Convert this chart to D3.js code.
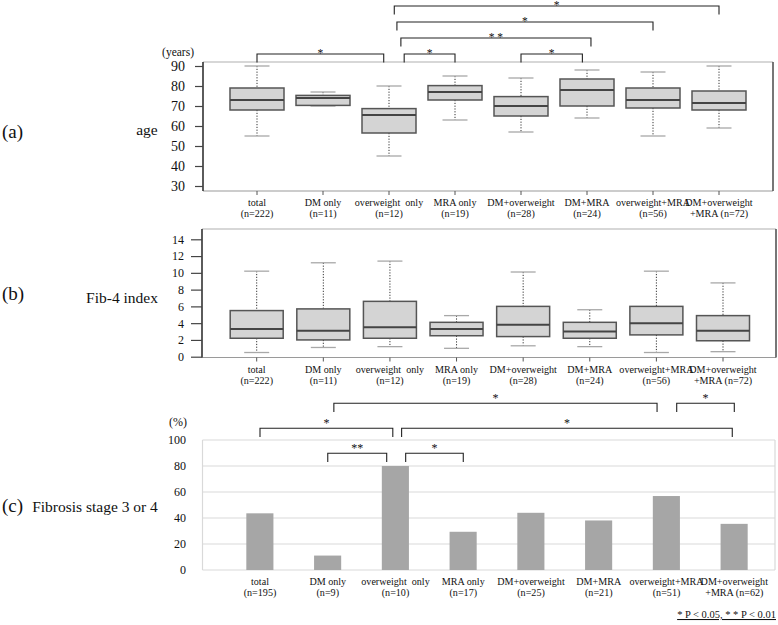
<!DOCTYPE html>
<html><head><meta charset="utf-8">
<script src="https://cdn.jsdelivr.net/npm/d3@7"></script>
</head>
<body style="margin:0;padding:0;background:#fff">
<svg id="chart" width="778" height="625" style="display:block"></svg>
<script>
// ---------- DATA ----------
const groupLabels = [["total","(n=222)"],["DM only","(n=11)"],["overweight  only","(n=12)"],["MRA only","(n=19)"],
  ["DM+overweight","(n=28)"],["DM+MRA","(n=24)"],["overweight+MRA","(n=56)"],["DM+overweight","+MRA (n=72)"]];
const groupLabelsC = [["total","(n=195)"],["DM only","(n=9)"],["overweight  only","(n=10)"],["MRA only","(n=17)"],
  ["DM+overweight","(n=25)"],["DM+MRA","(n=21)"],["overweight+MRA","(n=51)"],["DM+overweight","+MRA (n=62)"]];

// age (years): whisker low, Q1, median, Q3, whisker high
const ageMin    = [55, 70,   45,   63, 57,   64, 55, 59];
const ageQ1     = [68, 70.3, 56.5, 73, 65,   70, 69, 68];
const ageMedian = [73, 74,   65.5, 77, 70,   78, 73, 71.5];
const ageQ3     = [79, 75.3, 68.7, 80.2, 74.7, 83.5, 79, 77.5];
const ageMax    = [90, 77,   80,   85, 84,   88, 87, 90];
const ageTicks  = [30, 40, 50, 60, 70, 80, 90];

// Fib-4 index
const fibMin    = [0.5, 1.1, 1.2, 1.0, 1.3, 1.2, 0.5, 0.6];
const fibQ1     = [2.2, 2.0, 2.2, 2.5, 2.4, 2.2, 2.6, 1.9];
const fibMedian = [3.3, 3.1, 3.5, 3.3, 3.8, 3.0, 4.0, 3.1];
const fibQ3     = [5.5, 5.7, 6.6, 4.1, 6.0, 4.1, 6.0, 4.9];
const fibMax    = [10.2, 11.2, 11.4, 4.9, 10.1, 5.6, 10.2, 8.8];
const fibTicks  = [0, 2, 4, 6, 8, 10, 12, 14];

// Fibrosis stage 3 or 4 (%)
const fibrosisPct = [43.6, 11.1, 80, 29.4, 44, 38.1, 56.9, 35.5];
const pctTicks    = [0, 20, 40, 60, 80, 100];

// significance brackets: [from group, to group, label, tier]
const bracketsA = [[0, 1.92, "*", 0], [2.23, 3, "*", 0], [4, 4.93, "*", 0],
  [2.18, 5.06, "* *", 1], [2.12, 6, "*", 2], [2.08, 7, "*", 3]];
const bracketsC = [[1, 1.87, "**", 0], [2.15, 3, "*", 0], [0, 1.96, "*", 1],
  [2.09, 6.97, "*", 1], [1.09, 5.86, "*", 2], [6.15, 7, "*", 2]];

// ---------- DRAW ----------
const SERIF = '"Liberation Serif"';
const svg = d3.select("#chart");
const idx = d3.range(8);

function txt(g) { return g.append("text").style("font-family", SERIF).attr("fill", "#111"); }

function boxPanel(cfg) {
  const {x, y, left, right, top, bottom, mins, q1, med, q3, maxs, ticks, tickSize, tickPad, tickFont, boxW, labelY} = cfg;
  const g = svg.append("g");
  g.append("line").attr("x1", left).attr("x2", right).attr("y1", top).attr("y2", top).attr("stroke", "#b0b0b0").attr("stroke-width", 1.2);
  g.append("line").attr("x1", left).attr("x2", right).attr("y1", bottom).attr("y2", bottom).attr("stroke", "#9a9a9a").attr("stroke-width", 1.2);
  g.append("line").attr("x1", right).attr("x2", right).attr("y1", top).attr("y2", bottom).attr("stroke", "#555").attr("stroke-width", 1.6);
  g.append("line").attr("x1", left).attr("x2", left).attr("y1", top).attr("y2", bottom).attr("stroke", "#333").attr("stroke-width", 1.6);
  const ax = g.append("g").attr("transform", `translate(${left},0)`)
    .call(d3.axisLeft(y).tickValues(ticks).tickSize(tickSize).tickPadding(tickPad));
  ax.select(".domain").remove();
  ax.selectAll(".tick line").attr("stroke", "#444").attr("stroke-width", 1.2);
  ax.selectAll(".tick text").style("font-family", SERIF).attr("font-size", tickFont).attr("fill", "#111");
  g.selectAll(".xt").data(idx).join("line")
    .attr("x1", i => x(i)).attr("x2", i => x(i)).attr("y1", bottom).attr("y2", bottom + 4)
    .attr("stroke", "#555").attr("stroke-width", 1);
  const bx = g.selectAll(".bx").data(idx).join("g");
  bx.append("line").attr("x1", i => x(i)).attr("x2", i => x(i))
    .attr("y1", i => y(maxs[i])).attr("y2", i => y(q3[i]))
    .attr("stroke", "#333").attr("stroke-width", 1).attr("stroke-dasharray", "1.2,1.6");
  bx.append("line").attr("x1", i => x(i)).attr("x2", i => x(i))
    .attr("y1", i => y(q1[i])).attr("y2", i => y(mins[i]))
    .attr("stroke", "#333").attr("stroke-width", 1).attr("stroke-dasharray", "1.2,1.6");
  bx.append("line").attr("x1", i => x(i) - 12.5).attr("x2", i => x(i) + 12.5)
    .attr("y1", i => y(maxs[i])).attr("y2", i => y(maxs[i])).attr("stroke", "#a8a8a8").attr("stroke-width", 1.3);
  bx.append("line").attr("x1", i => x(i) - 12.5).attr("x2", i => x(i) + 12.5)
    .attr("y1", i => y(mins[i])).attr("y2", i => y(mins[i])).attr("stroke", "#a8a8a8").attr("stroke-width", 1.3);
  bx.append("rect").attr("x", i => x(i) - boxW / 2).attr("width", boxW)
    .attr("y", i => y(q3[i])).attr("height", i => y(q1[i]) - y(q3[i]))
    .attr("fill", "#d4d4d4").attr("stroke", "#555").attr("stroke-width", 1.5);
  bx.append("line").attr("x1", i => x(i) - boxW / 2).attr("x2", i => x(i) + boxW / 2)
    .attr("y1", i => y(med[i])).attr("y2", i => y(med[i])).attr("stroke", "#444").attr("stroke-width", 2);
  labels(g, groupLabels, x, labelY, 11.5);
}

function labels(g, arr, x, y0, dy) {
  const t = g.selectAll(".lab").data(idx).join("text")
    .style("font-family", SERIF).style("white-space", "pre")
    .attr("x", i => x(i)).attr("y", y0).attr("text-anchor", "middle")
    .attr("font-size", 10.1).attr("fill", "#111");
  t.append("tspan").attr("x", i => x(i)).text(i => arr[i][0]);
  t.append("tspan").attr("x", i => x(i)).attr("dy", dy).text(i => arr[i][1]);
}

function brackets(data, x, tierY, legLen, txtOff, fs) {
  const g = svg.append("g");
  data.forEach(([a, b, lab, tier]) => {
    const yy = tierY(tier);
    g.append("path").attr("d", `M${x(a)},${yy + legLen}V${yy}H${x(b)}V${yy + legLen}`)
      .attr("fill", "none").attr("stroke", "#222").attr("stroke-width", 1.1);
    txt(g).attr("x", (x(a) + x(b)) / 2).attr("y", yy + txtOff).attr("text-anchor", "middle")
      .attr("font-size", fs).style("white-space", "pre").text(lab);
  });
}

// ---- panel (a) ----
const xA = d3.scaleLinear().domain([0, 7]).range([257, 719]);
const yA = d3.scaleLinear().domain([27.5, 92]).range([191, 62]);
boxPanel({x: xA, y: yA, left: 203, right: 773, top: 62, bottom: 191,
  mins: ageMin, q1: ageQ1, med: ageMedian, q3: ageQ3, maxs: ageMax,
  ticks: ageTicks, tickSize: 8, tickPad: 10, tickFont: 14, boxW: 54, labelY: 205.5});
brackets(bracketsA, xA, t => 54 - 16 * t, 8.5, 3, 11.5);
txt(svg).attr("x", 194).attr("y", 55.5).attr("text-anchor", "end").attr("font-size", 11.5).text("(years)");
txt(svg).attr("x", 147).attr("y", 135).attr("text-anchor", "middle").attr("font-size", 15.5).text("age");
txt(svg).attr("x", 2).attr("y", 138).attr("font-size", 19).text("(a)");

// ---- panel (b) ----
const xB = d3.scaleLinear().domain([0, 7]).range([256.7, 723]);
const yB = d3.scaleLinear().domain([0, 14]).range([356.7, 239.3]);
boxPanel({x: xB, y: yB, left: 202, right: 776, top: 229, bottom: 357.5,
  mins: fibMin, q1: fibQ1, med: fibMedian, q3: fibQ3, maxs: fibMax,
  ticks: fibTicks, tickSize: 11, tickPad: 7, tickFont: 12, boxW: 53, labelY: 372.5});
txt(svg).attr("x", 122).attr("y", 302.5).attr("text-anchor", "middle").attr("font-size", 15.5).text("Fib-4 index");
txt(svg).attr("x", 2).attr("y", 300).attr("font-size", 19).text("(b)");

// ---- panel (c) ----
const xC = d3.scaleLinear().domain([0, 7]).range([260, 734.3]);
const band = d3.scaleBand().domain(idx).range([226, 768]).paddingInner(0.6).paddingOuter(0.3);
const yC = d3.scaleLinear().domain([0, 100]).range([570, 440]);
const gc = svg.append("g");
gc.selectAll(".grid").data(pctTicks).join("line")
  .attr("x1", 202.5).attr("x2", 775).attr("y1", d => yC(d)).attr("y2", d => yC(d))
  .attr("stroke", "#d9d9d9").attr("stroke-width", 1.2);
gc.append("line").attr("x1", 202.5).attr("x2", 202.5).attr("y1", 440).attr("y2", 570).attr("stroke", "#d9d9d9").attr("stroke-width", 1.2);
gc.append("line").attr("x1", 775).attr("x2", 775).attr("y1", 440).attr("y2", 570).attr("stroke", "#d9d9d9").attr("stroke-width", 1.2);
gc.selectAll(".bar").data(idx).join("rect")
  .attr("x", i => band(i)).attr("width", band.bandwidth())
  .attr("y", i => yC(fibrosisPct[i])).attr("height", i => yC(0) - yC(fibrosisPct[i]))
  .attr("fill", "#a6a6a6");
const axc = gc.append("g").attr("transform", "translate(202,0)")
  .call(d3.axisLeft(yC).tickValues(pctTicks).tickSize(0).tickPadding(16));
axc.select(".domain").remove();
axc.selectAll(".tick text").style("font-family", SERIF).attr("font-size", 12).attr("fill", "#111");
labels(gc, groupLabelsC, xC, 585, 10.8);
brackets(bracketsC, xC, t => 453.3 - 25 * t, 8.8, -1, 12);
txt(svg).attr("x", 187).attr("y", 426).attr("text-anchor", "end").attr("font-size", 12).text("(%)");
txt(svg).attr("x", 95).attr("y", 512).attr("text-anchor", "middle").attr("font-size", 15.5).text("Fibrosis stage 3 or 4");
txt(svg).attr("x", 2).attr("y", 512).attr("font-size", 19).text("(c)");

// footnote
txt(svg).attr("x", 776).attr("y", 618).attr("text-anchor", "end").attr("font-size", 10.5)
  .attr("text-decoration", "underline").style("white-space", "pre").text("* P < 0.05, * * P < 0.01");
</script>
</body></html>
